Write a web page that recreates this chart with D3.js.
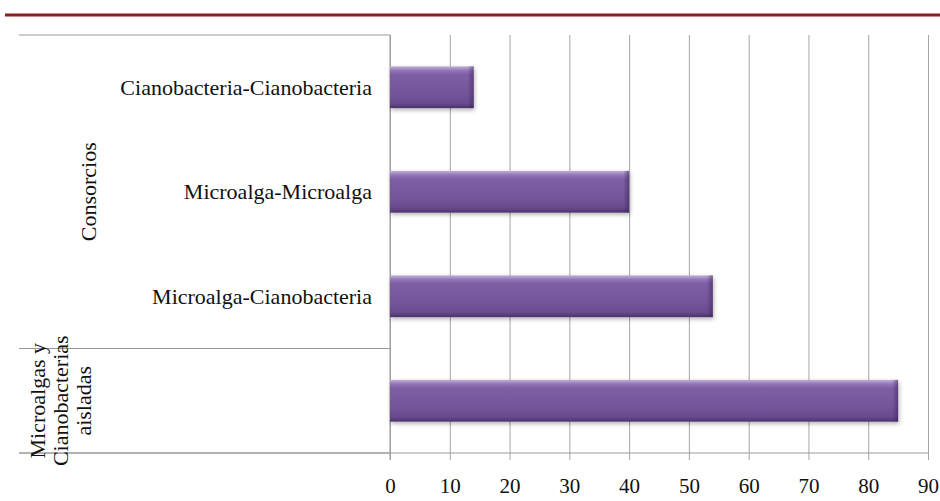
<!DOCTYPE html>
<html>
<head>
<meta charset="utf-8">
<script src="https://cdn.jsdelivr.net/npm/d3@7"></script>
<style>
  body { margin: 0; background: #fff; }
</style>
</head>
<body>
<div id="chart"></div>
<script>
// data
var categories = ["Cianobacteria-Cianobacteria", "Microalga-Microalga", "Microalga-Cianobacteria", ""]
var groups = ["Consorcios", "Consorcios", "Consorcios", "Microalgas y Cianobacterias aisladas"]
var groupLines = {
  "Consorcios": ["Consorcios"],
  "Microalgas y Cianobacterias aisladas": ["Microalgas y", "Cianobacterias", "aisladas"]
}
var values = [14, 40, 54, 85]
var xTicks = [0, 10, 20, 30, 40, 50, 60, 70, 80, 90]

const W = 940, H = 501
const plot = { left: 390, right: 928, top: 35, bottom: 453 }
const FONT = "'Liberation Serif', 'Times New Roman', Times, serif"

const svg = d3.select("#chart").append("svg")
    .attr("width", W)
    .attr("height", H)

const defs = svg.append("defs")
const grad = defs.append("linearGradient").attr("id", "barGrad")
    .attr("x1", 0).attr("y1", 0).attr("x2", 0).attr("y2", 1)
grad.selectAll("stop")
    .data([[0, "#c3afd9"], [0.1, "#9276b6"], [0.2, "#7d5ea5"], [0.6, "#75569c"], [0.88, "#6a4b90"], [1, "#4b3369"]])
    .enter().append("stop")
    .attr("offset", d => d[0]).attr("stop-color", d => d[1])
const edge = defs.append("linearGradient").attr("id", "edgeGrad")
    .attr("x1", 0).attr("y1", 0).attr("x2", 1).attr("y2", 0)
edge.selectAll("stop")
    .data([[0, "rgba(60,35,90,0)"], [1, "rgba(60,35,90,0.55)"]])
    .enter().append("stop")
    .attr("offset", d => d[0]).attr("stop-color", d => d[1])
defs.append("filter").attr("id", "shadow")
    .attr("x", "-5%").attr("y", "-20%").attr("width", "110%").attr("height", "150%")
    .append("feDropShadow")
    .attr("dx", 1).attr("dy", 2).attr("stdDeviation", 2)
    .attr("flood-color", "#000").attr("flood-opacity", 0.3)

// top rule
svg.append("line")
    .attr("x1", 5).attr("x2", W).attr("y1", 15).attr("y2", 15)
    .attr("stroke", "#8e1f1f").attr("stroke-width", 3)

const x = d3.scaleLinear().domain([0, 90]).range([plot.left, plot.right])
const y = d3.scaleBand()
    .domain(d3.range(categories.length))
    .range([plot.top, plot.bottom])
    .paddingInner(0.6)
    .paddingOuter(0.3)
const step = y.step()

// gridlines + ticks below the axis
const xAxis = svg.append("g")
    .attr("transform", `translate(0,${plot.bottom + 7})`)
    .call(d3.axisBottom(x).tickValues(xTicks).tickSize(-(plot.bottom + 7 - plot.top)).tickPadding(18).tickFormat(d3.format("d")))
xAxis.attr("font-family", null)
xAxis.select(".domain").remove()
xAxis.selectAll("line").attr("stroke", "#a6a6a6")
xAxis.selectAll("text")
    .style("font-family", FONT)
    .style("font-size", "21px")
    .attr("fill", "#111")

// axis line
svg.append("line")
    .attr("x1", 19).attr("x2", plot.right).attr("y1", plot.bottom).attr("y2", plot.bottom)
    .attr("stroke", "#999")
// category axis line
svg.append("line")
    .attr("x1", plot.left).attr("x2", plot.left).attr("y1", plot.top).attr("y2", plot.bottom + 7)
    .attr("stroke", "#999")

// group divider lines (multi-level category axis)
const bounds = [0]
groups.forEach((g, i) => { if (i > 0 && g !== groups[i - 1]) bounds.push(i) })
bounds.push(groups.length)
svg.selectAll(".divider").data(bounds).enter().append("line")
    .attr("class", "divider")
    .attr("x1", 19).attr("x2", plot.left)
    .attr("y1", d => plot.top + d * step).attr("y2", d => plot.top + d * step)
    .attr("stroke", "#999")

// group labels (rotated)
const groupSpans = []
for (let b = 0; b < bounds.length - 1; b++) {
  groupSpans.push({ name: groups[bounds[b]], from: bounds[b], to: bounds[b + 1] })
}
groupSpans.forEach(s => {
  const cy = plot.top + (s.from + s.to) / 2 * step
  const lines = groupLines[s.name]
  const lh = 23
  const baseX = lines.length === 1 ? 96 : 45
  lines.forEach((ln, k) => {
    svg.append("text")
      .attr("transform", `translate(${baseX + k * lh},${cy}) rotate(-90)`)
      .attr("text-anchor", "middle")
      .style("font-family", FONT)
      .style("font-size", "22px")
      .attr("fill", "#111")
      .text(ln)
  })
})

// category labels
svg.selectAll(".cat").data(categories).enter().append("text")
    .attr("class", "cat")
    .attr("x", plot.left - 18)
    .attr("y", (d, i) => y(i) + y.bandwidth() / 2)
    .attr("dy", "0.35em")
    .attr("text-anchor", "end")
    .style("font-family", FONT)
    .style("font-size", "22px")
    .attr("fill", "#111")
    .text(d => d)

// bars
const bars = svg.selectAll(".bar").data(values).enter().append("g").attr("class", "bar")
bars.append("rect")
    .attr("x", x(0))
    .attr("y", (d, i) => y(i))
    .attr("width", d => x(d) - x(0))
    .attr("height", y.bandwidth())
    .attr("fill", "url(#barGrad)")
    .attr("filter", "url(#shadow)")
bars.append("rect")
    .attr("x", d => x(d) - 6)
    .attr("y", (d, i) => y(i))
    .attr("width", 6)
    .attr("height", y.bandwidth())
    .attr("fill", "url(#edgeGrad)")
</script>
</body>
</html>
